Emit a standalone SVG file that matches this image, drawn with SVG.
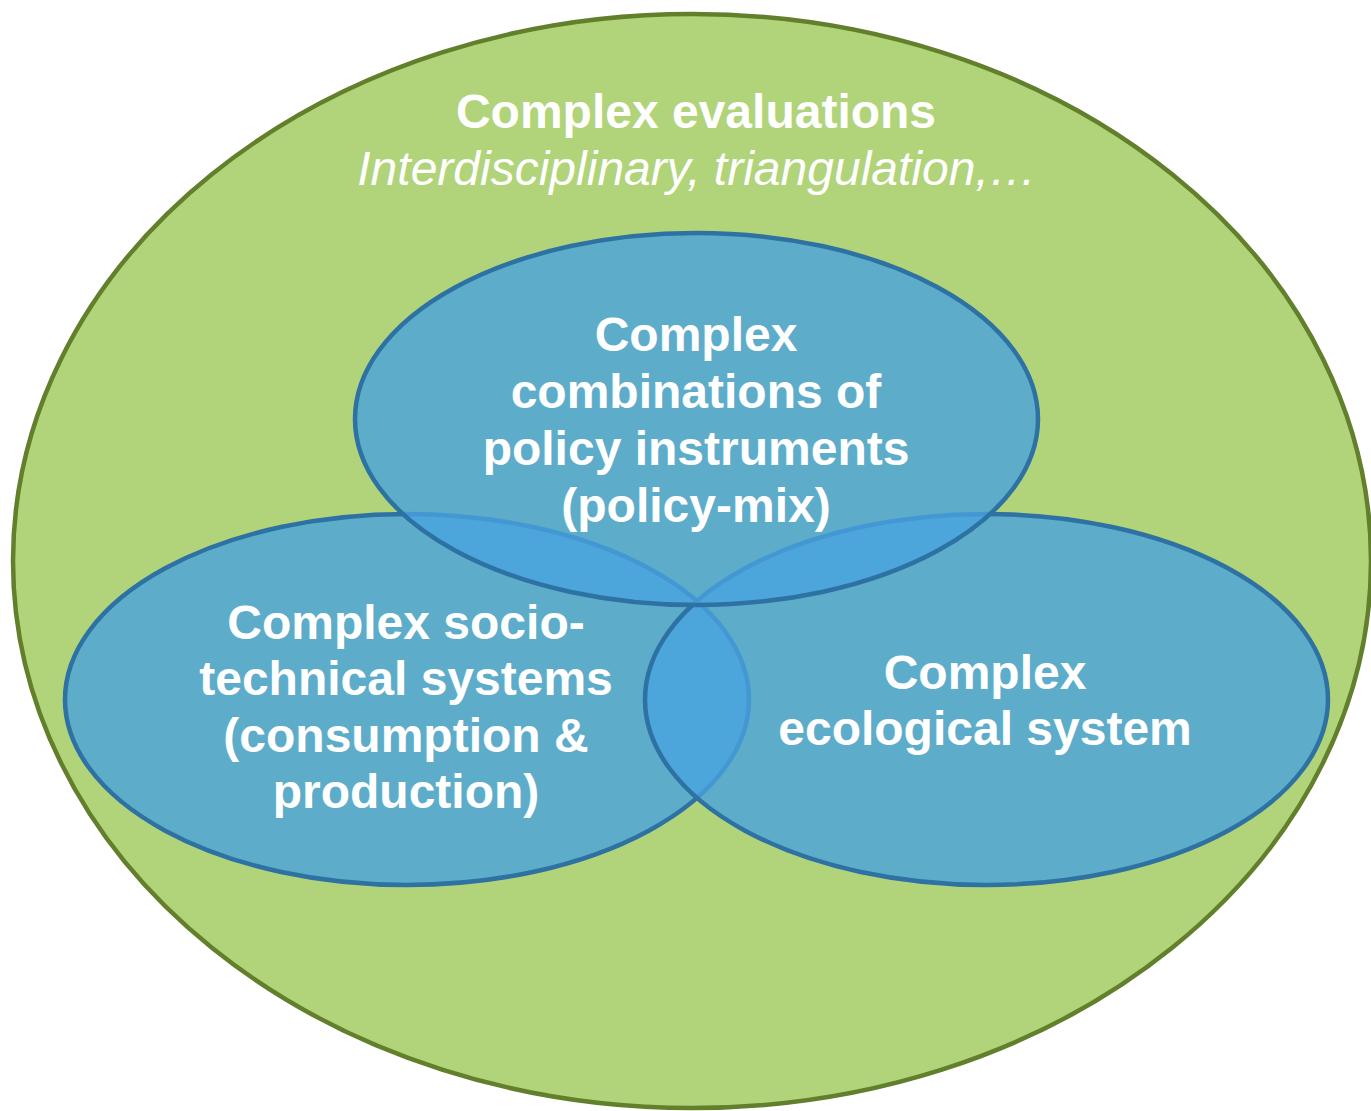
<svg xmlns="http://www.w3.org/2000/svg" width="1371" height="1111" viewBox="0 0 1371 1111">
  <style>
    .outer { fill: #b1d47a; stroke: #627f2c; stroke-width: 4.5; }
    .set { fill: #48a3df; fill-opacity: 0.8; stroke: #2e71a3; stroke-width: 4.5; }
    .lbl { font-family: "Liberation Sans", Arial, sans-serif; font-size: 48px; font-weight: bold; fill: #ffffff; text-anchor: middle; }
    .sub { font-family: "Liberation Sans", Arial, sans-serif; font-size: 48px; font-style: italic; fill: #ffffff; text-anchor: middle; }
  </style>
  <rect width="1371" height="1111" fill="#ffffff"/>

  <!-- Enclosing scope: complex evaluations -->
  <g id="evaluations">
    <ellipse class="outer" cx="692" cy="561" rx="679" ry="547"/>
    <text class="lbl" x="696" y="128">Complex evaluations</text>
    <text class="sub" x="697" y="185">Interdisciplinary, triangulation,…</text>
  </g>

  <!-- Three overlapping complexity domains -->
  <g id="socio-technical">
    <ellipse class="set" cx="407" cy="699.5" rx="342" ry="185.5"/>
  </g>
  <g id="ecological">
    <ellipse class="set" cx="986.5" cy="699.5" rx="341.5" ry="185.5"/>
  </g>
  <g id="policy-mix">
    <ellipse class="set" cx="696.5" cy="419" rx="341.5" ry="186"/>
  </g>

  <g id="labels">
    <text class="lbl" x="696" y="351">Complex</text>
    <text class="lbl" x="696" y="408">combinations of</text>
    <text class="lbl" x="696" y="465">policy instruments</text>
    <text class="lbl" x="696" y="522">(policy-mix)</text>

    <text class="lbl" x="406" y="639">Complex socio-</text>
    <text class="lbl" x="406" y="695">technical systems</text>
    <text class="lbl" x="406" y="752">(consumption &amp;</text>
    <text class="lbl" x="406" y="808">production)</text>

    <text class="lbl" x="985" y="689">Complex</text>
    <text class="lbl" x="985" y="745">ecological system</text>
  </g>

  <g id="connectors"/>
</svg>
